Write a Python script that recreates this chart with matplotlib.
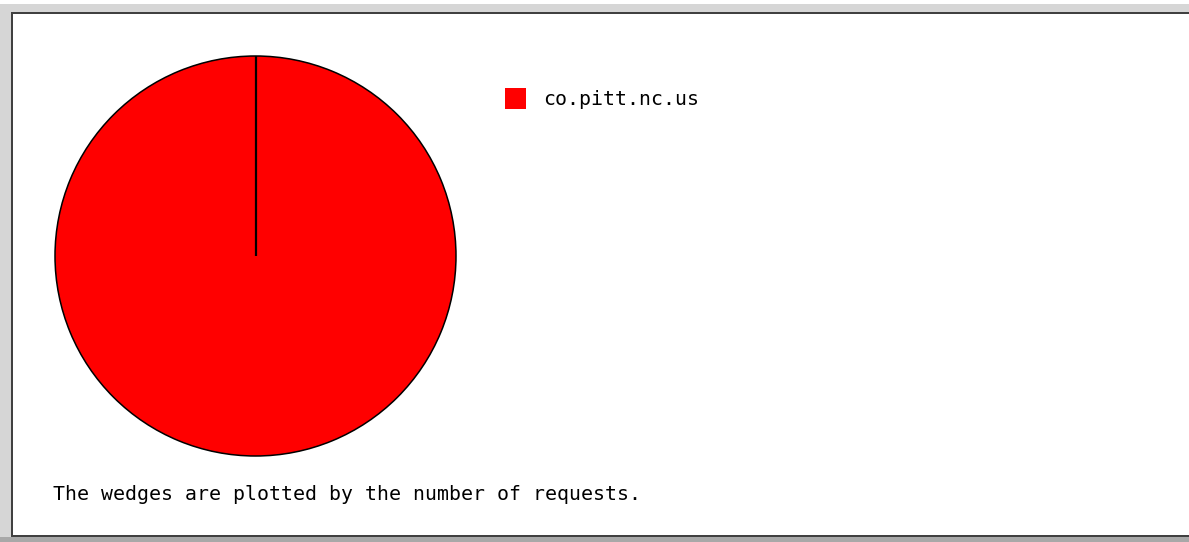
import matplotlib
matplotlib.use('Agg')
import matplotlib.pyplot as plt
import numpy as np
from matplotlib.patches import Rectangle

# data
labels = ['co.pitt.nc.us']
requests = [1]
colors = ['#ff0000']
footer = 'The wedges are plotted by the number of requests.'

W, H = 1189, 542
fig = plt.figure(figsize=(W / 100, H / 100), dpi=100)
fig.patch.set_facecolor('white')


def px(x, y):
    # pixel coords (top-left origin) -> figure fraction
    return x / W, 1 - y / H


def box(x0, y0, x1, y1, color):
    fx, fy = px(x0, y1)
    fig.add_artist(Rectangle((fx, fy), (x1 - x0) / W, (y1 - y0) / H,
                             transform=fig.transFigure, facecolor=color,
                             edgecolor='none', zorder=0))


# frame around the chart
box(0, 4, W, 12, '#d6d6d6')
box(0, 4, 11, H, '#d6d6d6')
box(0, 537, W, H, '#a8a8a8')
box(11, 12, W, 14, '#404040')
box(11, 12, 13, 537, '#404040')
box(11, 535, W, 537, '#404040')

# pie
left, top, right, bottom = 54, 55, 457, 457
fx, fy = px(left, bottom)
ax = fig.add_axes([fx, fy, (right - left) / W, (bottom - top) / H])
ax.pie(requests, colors=colors, startangle=90, counterclock=False,
       wedgeprops={'edgecolor': 'black', 'linewidth': 1.1}, radius=1.0)

# wedge boundaries (radius lines), from the cumulative shares
fracs = np.cumsum([0] + requests) / np.sum(requests)
for f in fracs[:-1]:
    a = np.deg2rad(90 - 360 * f)
    ax.plot([0, np.cos(a)], [0, np.sin(a)], color='black', lw=1.6,
            solid_capstyle='butt')

ax.set_xlim(-1.005, 1.005)
ax.set_ylim(-1.005, 1.005)
ax.set_aspect('auto')
ax.axis('off')

# legend
for i, lab in enumerate(labels):
    box(505, 88 + i * 30, 526, 109 + i * 30, colors[i])
    tx, ty = px(543, 100 + i * 30)
    fig.text(tx, ty, lab, family='DejaVu Sans Mono', fontsize=14.3,
             va='center', ha='left', color='black')

tx, ty = px(53, 494)
fig.text(tx, ty, footer, family='DejaVu Sans Mono', fontsize=14.3,
         va='center', ha='left', color='black')

fig.savefig('out.png', dpi=100)
